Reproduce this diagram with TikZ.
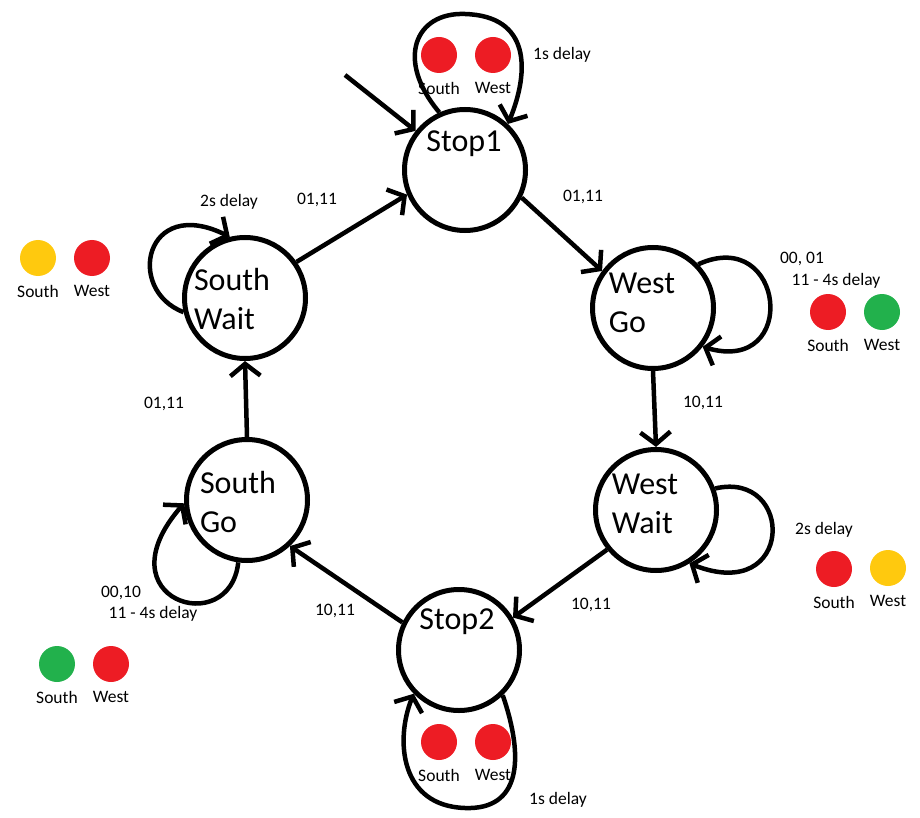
\documentclass[tikz,border=0pt]{standalone}
\usepackage{fontspec}
\setmainfont{Carlito}
\usetikzlibrary{arrows.meta, positioning}
\definecolor{lampred}{RGB}{237,28,36}
\definecolor{lampyellow}{RGB}{255,201,14}
\definecolor{lampgreen}{RGB}{34,177,76}

\begin{document}
\begin{tikzpicture}[x=1pt, y=-1pt,
  state/.style={circle, draw, line width=5pt, minimum size=121pt, inner sep=0pt},
  statetext/.style={font=\fontsize{32}{39}\selectfont, align=left, inner sep=0pt},
  lbl/.style={font=\fontsize{17.5}{21}\selectfont, inner sep=0pt},
  lamp/.style={circle, fill=#1, minimum size=36pt, inner sep=0pt},
  arr/.style={line width=4.5pt, -{Straight Barb[length=12pt,width=30pt]}}]
  \useasboundingbox (0,0) rectangle (920,818);
  % Estados
  \node[state] (stop1) at (465,170) {};
  \node[statetext] (stop1txt) at (464,144) {Stop1};
  \node[state] (westgo) at (653,308) {};
  \node[statetext] (westgotxt) at (642,303) {West\\Go};
  \node[state] (westwait) at (656,510) {};
  \node[statetext] (westwaittxt) at (645,504) {West\\Wait};
  \node[state] (stop2) at (459,650) {};
  \node[statetext] (stop2txt) at (457,622) {Stop2};
  \node[state] (southgo) at (247,500) {};
  \node[statetext] (southgotxt) at (238,502) {South\\Go};
  \node[state] (southwait) at (245,298) {};
  \node[statetext] (southwaittxt) at (232,299) {South\\Wait};
  % Transicoes
  \coordinate (init) at (345,75);
  \draw[arr] (init) -- (stop1);
  \draw[arr] (stop1.-26) -- (westgo.144);
  \draw[arr] (westgo.south) -- (westwait.north);
  \draw[arr] (westwait.219) -- (stop2.31);
  \draw[arr] (stop2.154) -- (southgo.-47);
  \draw[arr] (southgo.north) -- (southwait.south);
  \draw[arr] (southwait.35) -- (stop1.203);
  % Lacos
  \draw[arr] (stop1.114) .. controls (395,60) and (415,12) .. (465,14)
    .. controls (530,16) and (530,70) .. (stop1.47);
  \draw[arr] (southwait.193) .. controls (125,290) and (145,195) .. (southwait.104);
  \draw[arr] (westgo.44) .. controls (785,225) and (800,375) .. (westgo.-38);
  \draw[arr] (westwait.20) .. controls (795,470) and (795,605) .. (westwait.-58);
  \draw[arr] (southgo.-98) .. controls (230,640) and (100,600) .. (southgo.183);
  \draw[arr] (stop2.-46) .. controls (525,760) and (520,810) .. (465,808)
    .. controls (400,806) and (395,740) .. (stop2.-136);
  % Rotulos das transicoes
  \node[lbl] (d1) at (562,55) {1s delay};
  \node[lbl] (t1) at (317,200) {01,11};
  \node[lbl] (t2) at (583,197) {01,11};
  \node[lbl] (d2) at (229,202) {2s delay};
  \node[lbl] (d3) at (802,259) {00, 01};
  \node[lbl] (d4) at (836,281) {11 - 4s delay};
  \node[lbl] (t3) at (703,403) {10,11};
  \node[lbl] (t4) at (164,404) {01,11};
  \node[lbl] (d5) at (824,530) {2s delay};
  \node[lbl] (t5) at (591,605) {10,11};
  \node[lbl] (t6) at (335,611) {10,11};
  \node[lbl] (d6) at (121,593) {00,10};
  \node[lbl] (d7) at (153,614) {11 - 4s delay};
  \node[lbl] (d8) at (558,800) {1s delay};
  % Semaforos
  \node[lamp=lampred] (s1s) at (439,55) {};
  \node[lamp=lampred] (s1w) at (493,55) {};
  \node[lbl, below=9pt of s1s] (s1sl) {South};
  \node[lbl, below=9pt of s1w] (s1wl) {West};
  \node[lamp=lampyellow] (sws) at (38,258) {};
  \node[lamp=lampred] (sww) at (92,258) {};
  \node[lbl, below=9pt of sws] (swsl) {South};
  \node[lbl, below=9pt of sww] (swwl) {West};
  \node[lamp=lampred] (wgs) at (828,312) {};
  \node[lamp=lampgreen] (wgw) at (882,312) {};
  \node[lbl, below=9pt of wgs] (wgsl) {South};
  \node[lbl, below=9pt of wgw] (wgwl) {West};
  \node[lamp=lampred] (wws) at (834,569) {};
  \node[lamp=lampyellow] (www) at (888,568) {};
  \node[lbl, below=9pt of wws] (wwsl) {South};
  \node[lbl, below=9pt of www] (wwwl) {West};
  \node[lamp=lampgreen] (sgs) at (57,664) {};
  \node[lamp=lampred] (sgw) at (111,664) {};
  \node[lbl, below=9pt of sgs] (sgsl) {South};
  \node[lbl, below=9pt of sgw] (sgwl) {West};
  \node[lamp=lampred] (s2s) at (439,742) {};
  \node[lamp=lampred] (s2w) at (493,742) {};
  \node[lbl, below=9pt of s2s] (s2sl) {South};
  \node[lbl, below=9pt of s2w] (s2wl) {West};
\end{tikzpicture}
\end{document}
